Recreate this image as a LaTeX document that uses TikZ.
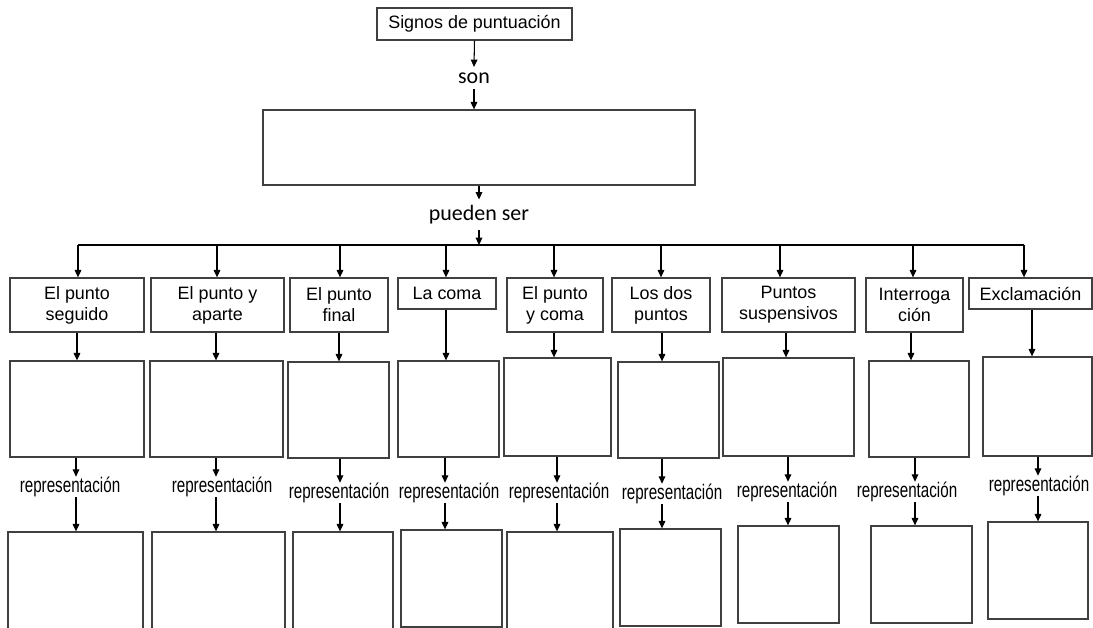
\documentclass[tikz,border=0pt]{standalone}
\usepackage{fontspec}
\setmainfont{Liberation Sans}
\newfontfamily\calibri{Carlito}
\newfontfamily\estrecha[FakeStretch=0.72]{Liberation Sans}
\usetikzlibrary{arrows.meta}

\tikzset{
  caja/.style={draw=black!75, line width=0.75pt, inner sep=0pt},
  etiqueta/.style={align=center, font=\fontsize{10.2}{12}\selectfont},
  enlace/.style={font=\calibri\fontsize{12.5}{14}\selectfont, inner sep=3pt},
  repr/.style={font=\estrecha\fontsize{12}{14}\selectfont, inner sep=0pt},
  flecha/.style={-{Triangle[length=4.2pt,width=3.8pt]}, line width=0.6pt}
}

\begin{document}
\begin{tikzpicture}[x=0.02cm, y=-0.02cm]
\useasboundingbox (0,0) rectangle (1093,628);
\clip (0,0) rectangle (1093,628);

% Title and first level
\node[caja, etiqueta, minimum width=3.9cm, minimum height=0.64cm] (s) at (474.5,24) {Signos de puntuaci\'on};
\node[enlace] (son) at (474,78) {son};
\node[caja, minimum width=8.64cm, minimum height=1.5cm] (g) at (479,147.5) {};
\node[enlace] (pueden) at (479,214.5) {pueden ser};
\draw[flecha] (s.south) -- (son.north);
\draw[flecha] (son.south) -- (son.south |- g.north);
\draw[flecha] (g.south) -- (pueden.north);

% Kinds of signs
\node[caja, etiqueta, minimum width=2.68cm, minimum height=1.08cm] (c1) at (77,305) {El punto\\seguido};
\node[caja, etiqueta, minimum width=2.66cm, minimum height=1.08cm] (c2) at (217.5,305) {El punto y\\aparte};
\node[caja, etiqueta, minimum width=1.96cm, minimum height=1.08cm] (c3) at (339,305) {El punto\\final};
\node[caja, etiqueta, minimum width=1.96cm, minimum height=0.62cm] (c4) at (447,293.5) {La coma};
\node[caja, etiqueta, minimum width=1.92cm, minimum height=1.08cm] (c5) at (555,305) {El punto\\y coma};
\node[caja, etiqueta, minimum width=1.96cm, minimum height=1.08cm] (c6) at (661,305) {Los dos\\puntos};
\node[caja, etiqueta, minimum width=2.66cm, minimum height=1.08cm] (c7) at (788.5,305) {Puntos\\suspensivos};
\node[caja, etiqueta, minimum width=1.94cm, minimum height=1.08cm] (c8) at (914.5,305) {Interroga\\ci\'on};
\node[caja, etiqueta, minimum width=2.46cm, minimum height=0.62cm] (c9) at (1030.5,293.5) {Exclamaci\'on};

% Empty boxes
\node[caja, minimum width=2.68cm, minimum height=1.92cm] (m1) at (77,409) {};
\node[caja, minimum width=2.66cm, minimum height=1.92cm] (m2) at (216.5,409) {};
\node[caja, minimum width=2.02cm, minimum height=1.92cm] (m3) at (338.5,410) {};
\node[caja, minimum width=2.02cm, minimum height=1.92cm] (m4) at (448.5,409) {};
\node[caja, minimum width=2.14cm, minimum height=1.96cm] (m5) at (557.5,407) {};
\node[caja, minimum width=2.02cm, minimum height=1.92cm] (m6) at (668.5,410) {};
\node[caja, minimum width=2.62cm, minimum height=1.96cm] (m7) at (788.5,407) {};
\node[caja, minimum width=2.0cm, minimum height=1.92cm] (m8) at (919,409) {};
\node[caja, minimum width=2.18cm, minimum height=1.98cm] (m9) at (1037.5,406.5) {};

% representacion
\node[repr] (t1) at (70,487) {representaci\'on};
\node[repr] (t2) at (222,487) {representaci\'on};
\node[repr] (t3) at (339,493) {representaci\'on};
\node[repr] (t4) at (449,493) {representaci\'on};
\node[repr] (t5) at (559,493) {representaci\'on};
\node[repr] (t6) at (672,494) {representaci\'on};
\node[repr] (t7) at (787,492) {representaci\'on};
\node[repr] (t8) at (907,492) {representaci\'on};
\node[repr] (t9) at (1039,486) {representaci\'on};

% Bottom boxes
\node[caja, minimum width=2.7cm, minimum height=2.0cm] (f1) at (75.5,582) {};
\node[caja, minimum width=2.66cm, minimum height=2.0cm] (f2) at (218.5,582) {};
\node[caja, minimum width=2.0cm, minimum height=2.0cm] (f3) at (343,582) {};
\node[caja, minimum width=2.02cm, minimum height=1.94cm] (f4) at (451.5,578.5) {};
\node[caja, minimum width=2.12cm, minimum height=2.0cm] (f5) at (560,582) {};
\node[caja, minimum width=2.02cm, minimum height=1.94cm] (f6) at (670.5,577.5) {};
\node[caja, minimum width=2.02cm, minimum height=1.94cm] (f7) at (788.5,574.5) {};
\node[caja, minimum width=2.02cm, minimum height=1.94cm] (f8) at (921.5,574.5) {};
\node[caja, minimum width=2.0cm, minimum height=1.94cm] (f9) at (1038,570.5) {};

% Arrows of each column
\foreach \i/\xa/\xb/\xc in {1/78/77/76, 2/217/216/216, 3/340/339/340, 4/446/446/445, 5/554/554/557, 6/661/662/662, 7/780/786/788, 8/913/911/915, 9/1024/1032/1038} {
  \coordinate (b\i) at (\xa,245);
  \coordinate (x\i) at (\xb,0);
  \coordinate (r\i) at (\xc,0);
  \draw[flecha] (b\i) -- (b\i |- c\i.north);
  \draw[flecha] (c\i.south -| x\i) -- (x\i |- m\i.north);
  \draw[flecha] (m\i.south -| r\i) -- (r\i |- t\i.north);
  \draw[flecha] (t\i.south -| r\i) -- (r\i |- f\i.north);
}
\draw[line width=0.6pt] (b1) -- (b9);
\draw[flecha] (pueden.south) -- (pueden.south |- b1);
\end{tikzpicture}
\end{document}
